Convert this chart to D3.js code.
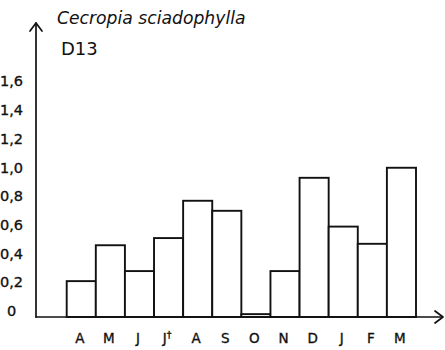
<!DOCTYPE html>
<html>
<head>
<meta charset="utf-8">
<script src="https://cdn.jsdelivr.net/npm/d3@7"></script>
<style>
  html, body { margin: 0; padding: 0; background: #fff; }
  svg { display: block; }
  text { font-family: "DejaVu Sans", sans-serif; fill: #111; }
  .lbl { stroke: #111; stroke-width: 0.35px; }
</style>
</head>
<body>
<svg id="chart" width="445" height="350"></svg>
<script>
// Monthly values, April to March (J† marks a flagged month)
const months = ["A", "M", "J", "J\u2020", "A", "S", "O", "N", "D", "J", "F", "M"];
const values = [0.25, 0.50, 0.32, 0.55, 0.81, 0.74, 0.02, 0.32, 0.97, 0.63, 0.51, 1.04];
const tickValues = [0, 0.2, 0.4, 0.6, 0.8, 1.0, 1.2, 1.4, 1.6];
const tickLabels = ["0", "0,2", "0,4", "0,6", "0,8", "1,0", "1,2", "1,4", "1,6"];
const speciesName = "Cecropia sciadophylla";
const plotName = "D13";

const svg = d3.select("#chart");
const axisX = 36, baseY = 317;

const x = d3.scaleBand()
  .domain(d3.range(months.length))
  .range([66.7, 416])
  .padding(0);

const y = d3.scaleLinear()
  .domain([0, 1.6])
  .range([baseY, baseY - 1.6 * 143.5]);

// Bars
svg.append("g")
  .selectAll("rect")
  .data(values)
  .join("rect")
  .attr("x", (d, i) => x(i))
  .attr("y", d => y(d))
  .attr("width", x.bandwidth())
  .attr("height", d => y(0) - y(d))
  .attr("fill", "#fff")
  .attr("stroke", "#111")
  .attr("stroke-width", 1.9);

// Axes with open arrow heads
const axes = svg.append("g")
  .attr("fill", "none")
  .attr("stroke", "#111")
  .attr("stroke-width", 1.7)
  .attr("stroke-linecap", "round")
  .attr("stroke-linejoin", "round");

axes.append("path").attr("d", d3.line()([[axisX, 23], [axisX, baseY]]));
axes.append("path").attr("d", d3.line()([[axisX - 6, 31], [axisX, 23], [axisX + 6, 31]]));
axes.append("path").attr("d", d3.line()([[axisX, baseY], [442, baseY]]));
axes.append("path").attr("d", d3.line()([[435, baseY - 6], [443, baseY], [435, baseY + 6]]));

// Y tick labels
svg.append("g")
  .selectAll("text")
  .data(tickValues)
  .join("text")
  .attr("class", "lbl")
  .attr("x", 11.5)
  .attr("y", d => y(d) - 6)
  .attr("dy", "0.35em")
  .attr("text-anchor", "middle")
  .attr("font-size", 14.5)
  .text((d, i) => tickLabels[i]);

// Month labels
const mLabels = svg.append("g")
  .selectAll("text")
  .data(months)
  .join("text")
  .attr("class", "lbl")
  .attr("x", (d, i) => x(i) + x.bandwidth() / 2 - 1.5)
  .attr("y", 338.5)
  .attr("dy", "0.35em")
  .attr("text-anchor", "middle")
  .attr("font-size", 13.5);

mLabels.each(function(d) {
  const t = d3.select(this);
  if (d.endsWith("\u2020")) {
    t.append("tspan").text(d.slice(0, -1));
    t.append("tspan").attr("dy", "-0.5em").attr("font-size", 9.5).text("\u2020");
  } else {
    t.text(d);
  }
});

// Titles
svg.append("text")
  .attr("x", 57)
  .attr("y", 24)
  .attr("font-family", "'Liberation Sans', sans-serif")
  .attr("font-size", 17.2)
  .attr("font-style", "italic")
  .text(speciesName);

svg.append("text")
  .attr("x", 61)
  .attr("y", 55)
  .attr("font-family", "'Liberation Sans', sans-serif")
  .attr("font-size", 18)
  .text(plotName);
</script>
</body>
</html>
